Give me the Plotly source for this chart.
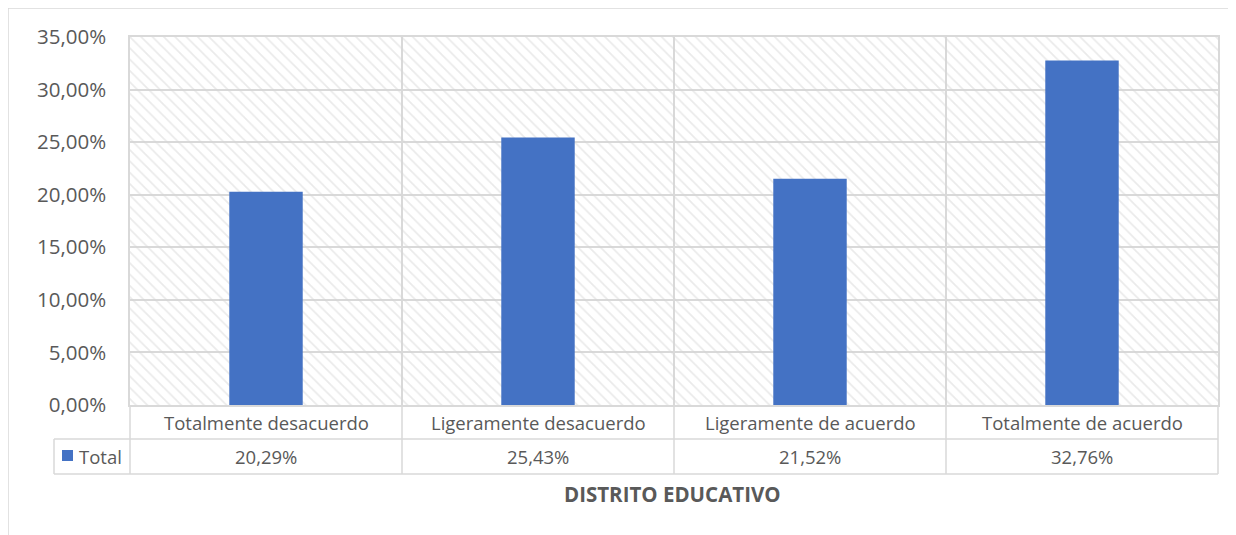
import plotly.graph_objects as go

# data
categories = ["Totalmente desacuerdo", "Ligeramente desacuerdo",
              "Ligeramente de acuerdo", "Totalmente de acuerdo"]
values = [20.29, 25.43, 21.52, 32.76]
series_name = "Total"
axis_title = "DISTRITO EDUCATIVO"

BLUE = "#4472C4"
GRID = "#d9d9d9"
TXT = "#595959"
FONT = "Open Sans"

# plot area on screen: x 130..1218, y 37..405 (page has an 8px body margin)
H_PLOT = 368.0
def py(pix):  # screen row -> paper y
    return (405 - pix) / H_PLOT

def px(pix):  # screen col -> paper x
    return (pix - 130) / 1088.0

xs = list(range(len(categories)))
ymax = 35

fig = go.Figure()

# hatched plot background
fig.add_trace(go.Bar(
    x=[(len(categories) - 1) / 2], y=[ymax], width=[len(categories)],
    marker=dict(color="rgba(0,0,0,0)", line=dict(width=0),
                pattern=dict(shape="\\", fgcolor="#d6d6d6", bgcolor="rgba(0,0,0,0)",
                             size=8, solidity=0.22, fillmode="overlay")),
    hoverinfo="skip", showlegend=False))

fig.add_trace(go.Bar(
    x=xs, y=values, width=0.27, name=series_name,
    marker=dict(color=BLUE, line=dict(width=0)), showlegend=False))

shapes = []
annotations = []

# outer chart border (cut off at right/bottom)
shapes.append(dict(type="rect", xref="paper", yref="paper",
                   x0=px(8), x1=px(1300), y0=py(600), y1=py(8),
                   line=dict(color=GRID, width=1.5), layer="below"))

# data table lines
line = dict(color=GRID, width=1.5)
r1, r2 = py(439), py(474)
shapes.append(dict(type="line", xref="paper", yref="paper", x0=px(54), x1=1, y0=r1, y1=r1, line=line))
shapes.append(dict(type="line", xref="paper", yref="paper", x0=px(54), x1=1, y0=r2, y1=r2, line=line))
shapes.append(dict(type="line", xref="paper", yref="paper", x0=px(54), x1=px(54), y0=r1, y1=r2, line=line))
for b in [0, 1]:
    shapes.append(dict(type="line", xref="paper", yref="paper", x0=b, x1=b, y0=0, y1=r2, line=line))
for i in range(1, len(categories)):
    shapes.append(dict(type="line", xref="x", yref="paper", x0=i - 0.5, x1=i - 0.5,
                       y0=0, y1=r2, line=line))

# legend key in table
shapes.append(dict(type="rect", xref="paper", yref="paper",
                   x0=px(62), x1=px(73), y0=py(461), y1=py(450),
                   fillcolor=BLUE, line=dict(width=0)))
annotations.append(dict(text=series_name, xref="paper", yref="paper",
                        x=px(77), y=py(456.5), xanchor="left", yanchor="middle",
                        showarrow=False, font=dict(size=18.5, color=TXT, family=FONT)))

for i, (c, v) in enumerate(zip(categories, values)):
    annotations.append(dict(text=c, xref="x", yref="paper", x=i, y=py(422),
                            xanchor="center", yanchor="middle", showarrow=False,
                            font=dict(size=18.5, color=TXT, family=FONT)))
    annotations.append(dict(text=f"{v:.2f}".replace(".", ",") + "%", xref="x", yref="paper",
                            x=i, y=py(456.5), xanchor="center", yanchor="middle",
                            showarrow=False, font=dict(size=18.5, color=TXT, family=FONT)))

annotations.append(dict(text=f"<b>{axis_title}</b>", xref="paper", yref="paper",
                        x=px(672), y=py(494), xanchor="center", yanchor="middle",
                        showarrow=False, font=dict(size=20.5, color=TXT, family=FONT)))

fig.update_layout(
    width=1236, height=535,
    margin=dict(l=122, r=26, t=29, b=138),
    paper_bgcolor="white", plot_bgcolor="white",
    barmode="overlay", separators=",.",
    font=dict(family=FONT, color=TXT, size=18),
    shapes=shapes, annotations=annotations,
    xaxis=dict(range=[-0.5, len(categories) - 0.5], tickvals=[i + 0.5 for i in range(len(categories) - 1)],
               showticklabels=False, showgrid=True, gridcolor=GRID, gridwidth=1.5,
               showline=True, linecolor=GRID, linewidth=1.5, mirror=True,
               zeroline=False, fixedrange=True),
    yaxis=dict(range=[0, ymax], dtick=5, tickformat=".2f", ticksuffix="%",
               showgrid=True, gridcolor=GRID, gridwidth=1.5,
               showline=True, linecolor=GRID, linewidth=1.5, mirror=True,
               zeroline=False, ticklabelstandoff=18, fixedrange=True,
               tickfont=dict(size=20.5, color=TXT, family=FONT)),
)

fig.write_html("out.html")
